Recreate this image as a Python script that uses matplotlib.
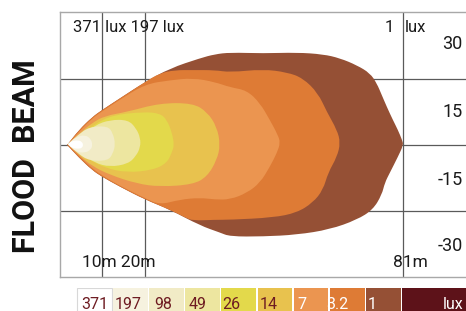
import matplotlib
matplotlib.use("Agg")
import matplotlib.pyplot as plt
from matplotlib.patches import Rectangle, PathPatch
from matplotlib.path import Path

plt.rcParams['font.family'] = ['Roboto', 'DejaVu Sans']

# ---- data -------------------------------------------------------------
lux_levels = ["371", "197", "98", "49", "26", "14", "7", "3.2", "1"]
lux_colors = ["#ffffff", "#f6f2df", "#f1ebc6", "#ede6a0", "#e3d94b",
              "#e8c24e", "#eb9550", "#de7b35", "#955035"]
unit_color = "#5d1219"

# beam contours: distance (m), lateral (grid units); first point is the beam tip
c1_x = [1.7, 4.5, 7.6, 9.9, 14.2, 20.1, 26.0, 33.1, 36.6, 40.2, 48.0, 56.0, 62.2, 66.2, 70.2, 73.3,
        74.9, 76.1, 77.3, 78.7, 79.9, 80.9, 81.2, 79.9, 78.0, 76.8, 76.1, 74.0, 70.2, 63.8, 56.0,
        48.0, 40.2, 37.8, 33.1, 26.0, 20.1, 14.2, 9.9, 7.6, 4.5]
c1_y = [0.0, 3.4, 6.3, 7.9, 10.6, 14.3, 17.4, 19.7, 20.6, 21.0, 20.8, 21.0, 20.6, 19.7, 18.1, 16.3,
        14.0, 11.3, 8.6, 5.7, 3.4, 1.1, 0.0, -2.7, -6.3, -8.6, -11.3, -14.7, -17.0, -19.2, -20.4,
        -20.8, -20.8, -19.9, -18.3, -14.7, -12.4, -9.5, -7.2, -5.7, -2.9]

c32_x = [1.7, 4.5, 7.6, 9.9, 14.2, 20.1, 23.6, 27.2, 31.4, 36.6, 40.2, 48.0, 53.7, 57.4, 61.0, 63.1,
         65.5, 66.3, 65.5, 63.4, 62.2, 59.8, 56.0, 50.4, 40.2, 36.6, 31.4, 29.6, 26.0, 20.1, 14.2,
         9.9, 7.6, 4.5]
c32_y = [0.0, 3.4, 6.3, 7.9, 10.6, 14.3, 16.3, 17.0, 17.0, 17.0, 16.5, 17.2, 16.5, 15.2, 11.8, 7.5,
         3.4, 0.5, -2.7, -6.3, -10.2, -13.1, -15.4, -16.5, -17.0, -17.0, -17.2, -16.5, -14.7,
         -12.4, -9.5, -7.2, -5.7, -2.9]

c7_x = [1.8, 4.7, 7.6, 9.9, 14.2, 20.1, 26.0, 31.4, 36.6, 40.2, 44.2, 47.3, 49.6, 51.5, 52.1, 51.3,
        49.6, 47.3, 44.2, 40.2, 36.6, 33.1, 28.4, 23.6, 20.1, 14.2, 9.9, 7.6, 4.7]
c7_y = [0.1, 3.2, 6.0, 7.6, 10.3, 13.8, 14.7, 15.2, 14.3, 13.1, 12.4, 9.5, 5.7, 2.3, 0.5, -1.8,
        -5.0, -8.6, -10.9, -12.4, -12.4, -12.0, -12.4, -13.6, -12.1, -9.3, -6.9, -5.3, -2.7]

c14_x = [1.9, 4.7, 7.6, 10.6, 15.8, 23.6, 31.4, 34.8, 37.1, 37.9, 37.1, 34.8, 31.4, 23.6, 18.2,
         11.8, 7.6, 4.7]
c14_y = [0.2, 2.7, 5.0, 6.6, 7.5, 9.5, 9.5, 7.5, 4.1, 0.0, -3.4, -7.2, -9.0, -9.5, -8.8, -6.8,
         -4.8, -2.5]

c26_x = [1.9, 4.7, 8.3, 12.5, 19.6, 23.6, 25.3, 26.5, 27.0, 26.5, 25.3, 22.0, 15.8, 10.6, 7.1, 4.3]
c26_y = [0.2, 2.0, 4.8, 6.8, 7.5, 7.2, 5.7, 2.7, 0.0, -1.6, -4.1, -5.7, -6.3, -5.2, -3.4, -1.8]

c49_x = [1.9, 4.7, 8.3, 11.8, 16.1, 18.0, 19.0, 19.0, 18.0, 16.1, 11.8, 8.3, 4.7]
c49_y = [0.2, 1.8, 4.5, 5.7, 5.7, 3.8, 1.6, -0.5, -2.5, -4.3, -5.0, -4.1, -1.8]

c98_x = [1.9, 4.3, 6.9, 11.3, 12.5, 13.1, 12.5, 11.3, 6.9, 4.3]
c98_y = [0.2, 2.3, 4.1, 4.3, 2.7, 0.2, -2.0, -3.6, -3.6, -2.0]

c197_x = [1.9, 3.8, 5.9, 7.3, 7.7, 7.3, 5.9, 3.8]
c197_y = [0.2, 1.8, 2.3, 1.4, 0.0, -1.1, -1.8, -1.6]

c371_x = [1.9, 2.8, 4.3, 5.2, 5.5, 5.2, 4.3, 2.8]
c371_y = [0.2, 0.9, 1.1, 0.7, 0.0, -0.7, -0.9, -0.7]

contours_x = [c1_x, c32_x, c7_x, c14_x, c26_x, c49_x, c98_x, c197_x, c371_x]
contours_y = [c1_y, c32_y, c7_y, c14_y, c26_y, c49_y, c98_y, c197_y, c371_y]
contour_colors = lux_colors[::-1]

grid_x = [10, 20, 81]
grid_y = [-15, 0, 15]
dist_labels = ["10m 20m", "81m"]
angle_labels = ["30", "15", "-15", "-30"]
top_labels = ["371 lux 197 lux", "1", "lux"]
title = "FLOOD  BEAM"


def smooth_path(xs, ys):
    """Closed quadratic-Bezier path through the outline; the tip (first point) stays sharp."""
    pts = list(zip(xs, ys))
    pts = [pts[0]] + pts + [pts[0]]          # repeat tip so it is a hard corner
    n = len(pts)
    mids = [((pts[i][0] + pts[(i + 1) % n][0]) / 2, (pts[i][1] + pts[(i + 1) % n][1]) / 2)
            for i in range(n)]
    verts = [mids[-1]]
    codes = [Path.MOVETO]
    for i in range(n):
        verts += [pts[i], mids[i]]
        codes += [Path.CURVE3, Path.CURVE3]
    verts.append(mids[-1])
    codes.append(Path.CLOSEPOLY)
    return Path(verts, codes)


# ---- figure -------------------------------------------------------------
W, H = 466, 311
fig = plt.figure(figsize=(W / 100, H / 100), dpi=100)
ax = fig.add_axes([60 / W, 34 / H, 406 / W, 265 / H])
ax.set_xlim(0, 96)
ax.set_ylim(-30, 30.2)
ax.set_xticks([])
ax.set_yticks([])
for side in ["top", "left", "bottom"]:
    ax.spines[side].set_color("#a8a8a8")
    ax.spines[side].set_linewidth(1.0)
ax.spines["right"].set_visible(False)

for gx in grid_x:
    ax.axvline(gx, color="#5a5a5a", lw=0.9, zorder=0)
for gy in grid_y:
    ax.axhline(gy, color="#5a5a5a", lw=0.9, zorder=0)

for xs, ys, col in zip(contours_x, contours_y, contour_colors):
    ax.add_patch(PathPatch(smooth_path(xs, ys), facecolor=col, edgecolor="none", zorder=2))

tc = "#1a1a1a"
ax.text(3.1, 25.6, top_labels[0], fontsize=12, color=tc, va="baseline", ha="left", zorder=5)
ax.text(79.0, 25.6, top_labels[1], fontsize=12, color=tc, va="baseline", ha="right", zorder=5)
ax.text(81.5, 25.6, top_labels[2], fontsize=12, color=tc, va="baseline", ha="left", zorder=5)
ax.text(5.2, -27.8, dist_labels[0], fontsize=12.5, color=tc, va="baseline", ha="left", zorder=5)
ax.text(78.7, -27.8, dist_labels[1], fontsize=12.5, color=tc, va="baseline", ha="left", zorder=5)
for lab, yy in zip(angle_labels, [21.7, 6.3, -9.0, -24.2]):
    ax.text(95.2, yy, lab, fontsize=13, color=tc, va="baseline", ha="right", zorder=5)

fig.text(26.5 / W, 1 - 156.5 / H, title, rotation=90, ha="center", va="center",
         fontsize=22, fontweight="bold", color="#111111",
         family=["Liberation Sans Narrow", "Roboto", "DejaVu Sans"])

# ---- legend strip -------------------------------------------------------
lg = fig.add_axes([0, 0, 1, 23 / H])
lg.set_xlim(0, W)
lg.set_ylim(0, 23)
lg.axis("off")
label_dx = [4.7, 1.3, 4.7, 3.3, 1.0, 2.0, 4.0, -3.0, 2.0]
dark_text = "#6e1c22"
for i, (lab, col) in enumerate(zip(lux_levels, lux_colors)):
    x0 = 77 + i * 36.1
    ec = "#d8d8d8" if i == 0 else "none"
    lg.add_patch(Rectangle((x0, 0), 34.8, 23, facecolor=col, edgecolor=ec, lw=0.8))
for i, lab in enumerate(lux_levels):
    x0 = 77 + i * 36.1
    lg.text(x0 + label_dx[i], 2.2, lab, fontsize=11.5,
            color=dark_text if i < 6 else "white", va="baseline", ha="left", zorder=5)
lg.add_patch(Rectangle((402, 0), 70, 23, facecolor=unit_color, edgecolor="none"))
lg.text(463, 2.2, "lux", fontsize=11.5, color="white", va="baseline", ha="right")

fig.savefig("out.png", dpi=100)
